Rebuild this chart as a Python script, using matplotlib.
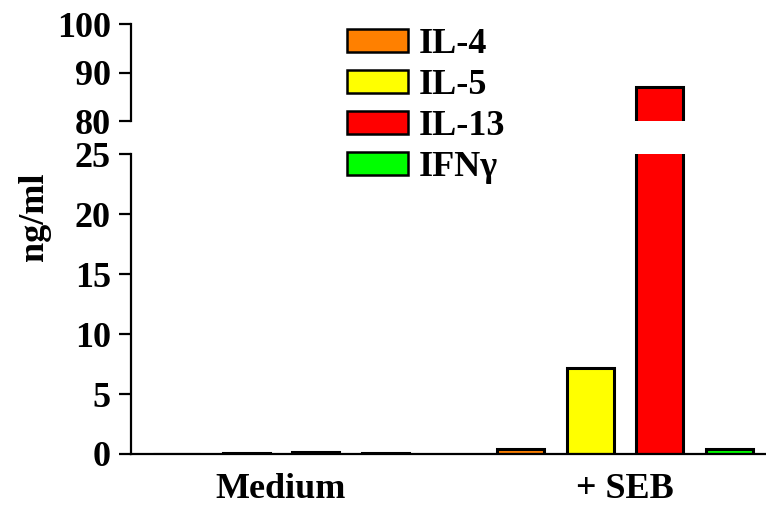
import numpy as np
import matplotlib.pyplot as plt
from matplotlib.patches import Patch

# cytokine levels (ng/ml)
groups = ['Medium', '+ SEB']
cytokines = ['IL-4', 'IL-5', 'IL-13', 'IFN\u03b3']
colors = ['#FF8000', '#FFFF00', '#FF0000', '#00FF00']
medium_vals = [0.04, 0.12, 0.18, 0.05]
seb_vals = [0.45, 7.2, 87.0, 0.45]

plt.rcParams['font.family'] = ['Liberation Serif', 'DejaVu Serif']
plt.rcParams['font.weight'] = 'bold'
fs = 26

fig = plt.figure(figsize=(7.66, 5.05), dpi=100)
ax_lo = fig.add_axes([0.171, 0.101, 0.829, 0.594])
ax_hi = fig.add_axes([0.171, 0.760, 0.829, 0.192])

x = np.arange(len(groups))
width = 0.137
step = 0.202
offsets = (np.arange(len(cytokines)) - 1.5) * step

data = np.array([medium_vals, seb_vals])
for i, name in enumerate(cytokines):
    for ax in (ax_lo, ax_hi):
        ax.bar(x + offsets[i], data[:, i], width, color=colors[i],
               edgecolor='black', linewidth=2.2)

for ax in (ax_lo, ax_hi):
    ax.set_xlim(-0.436, 1.41)
    for s in ['top', 'right']:
        ax.spines[s].set_visible(False)
    ax.spines['left'].set_linewidth(1.6)
    ax.tick_params(axis='y', direction='out', length=8.5, width=1.6,
                   labelsize=fs, pad=6)

ax_lo.set_ylim(0, 25)
ax_lo.set_yticks([0, 5, 10, 15, 20, 25])
ax_lo.spines['bottom'].set_linewidth(1.6)
ax_lo.set_xticks(x)
ax_lo.set_xticklabels(groups, fontsize=fs, fontweight='bold')
ax_lo.tick_params(axis='x', length=0, pad=14)

ax_hi.set_ylim(80, 100)
ax_hi.set_yticks([80, 90, 100])
ax_hi.spines['bottom'].set_visible(False)
ax_hi.set_xticks([])

for ax in (ax_lo, ax_hi):
    for lab in ax.get_yticklabels():
        lab.set_fontweight('bold')

fig.text(0.045, 0.57, 'ng/ml', rotation=90, fontsize=fs, fontweight='bold',
         ha='center', va='center')

handles = [Patch(facecolor=c, edgecolor='black', linewidth=1.8) for c in colors]
fig.legend(handles, cytokines, loc='upper left', bbox_to_anchor=(0.443, 0.958),
           frameon=False, fontsize=fs, handlelength=1.69, handleheight=0.58,
           handletextpad=0.3, labelspacing=0.22, borderaxespad=0, borderpad=0.2,
           prop={'weight': 'bold', 'size': fs})

fig.savefig('out.png', dpi=100)
